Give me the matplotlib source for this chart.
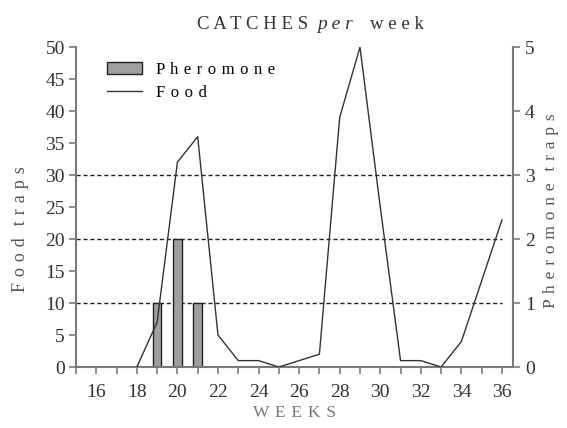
import matplotlib
matplotlib.use("Agg")
import matplotlib.pyplot as plt
from matplotlib.patches import Patch
from matplotlib.lines import Line2D

weeks = list(range(18, 37))
food = [0, 7, 32, 36, 5, 1, 1, 0, 1, 2, 39, 50, 25, 1, 1, 0, 4, 13.5, 23]
pher_weeks = [19, 20, 21]
pheromone = [1, 2, 1]
xticks = list(range(16, 37, 2))

plt.rcParams['font.family'] = ['Liberation Serif', 'DejaVu Serif']

SEP = " \u200a"

def spaced(s, sep=SEP):
    return sep.join(s)

def spaced_words(s, sep=SEP):
    return (sep * 2).join(spaced(w, sep) for w in s.split(" "))

fig = plt.figure(figsize=(5.67, 4.28), dpi=100)
ax = fig.add_axes([0.134, 0.1425, 0.771, 0.7475])
ax2 = ax.twinx()

gray = "#7a7a7a"
txt = "#333333"

ax.plot(weeks, food, color="#333333", lw=1.0, zorder=3)
ax.set_ylim(0, 50)
ax.set_xlim(15, 36.55)
ax.set_yticks(range(0, 51, 5))
ax.set_xticks(xticks)
ax.set_xticks(range(15, 37), minor=True)

ax2.bar(pher_weeks, pheromone, width=0.42, color="#a0a0a0", edgecolor="#222222", lw=1.0, zorder=2)
ax2.set_ylim(0, 5)
ax2.set_yticks(range(0, 6))
for lvl in [1, 2]:
    ax2.plot([15, 36], [lvl, lvl], ls=(0, (3, 2)), color="#222222", lw=1.0, zorder=1)
ax2.plot([15, 36.55], [3, 3], ls=(0, (3, 2)), color="#222222", lw=1.0, zorder=1)
ax.set_zorder(ax2.get_zorder() + 1)
ax.patch.set_visible(False)

for a in (ax, ax2):
    a.spines['top'].set_visible(False)
    for s in ['left', 'right', 'bottom']:
        a.spines[s].set_color(gray)
        a.spines[s].set_linewidth(1.5)
    a.tick_params(which='both', direction='out', color=gray, width=1.2, length=5,
                  labelsize=14, labelcolor=txt)
ax.spines['right'].set_visible(False)
ax2.spines['left'].set_visible(False)
ax2.spines['bottom'].set_visible(False)
ax.tick_params(axis='x', which='major', pad=7)
ax.tick_params(axis='y', which='major', pad=3)

ax.set_ylabel(spaced_words("Food traps"), fontsize=13, color="#555555")
ax.yaxis.set_label_coords(-0.107, 0.43)
ax2.set_ylabel(spaced_words("Pheromone traps"), fontsize=12.5, color="#555555")
ax2.yaxis.set_label_coords(1.068, 0.49)
ax.set_xlabel(spaced("WEEKS"), fontsize=12.5, color="#777777")
ax.xaxis.set_label_coords(0.5, -0.12)

ty = 1 - 29 / 428
fig.text(308 / 567, ty, " ".join("CATCHES"), ha='right', va='baseline', fontsize=13.5, color=txt)
fig.text(317 / 567, ty, " ".join("per"), ha='left', va='baseline', fontsize=14, color=txt, style='italic')
fig.text(370 / 567, ty, " ".join("week"), ha='left', va='baseline', fontsize=13.5, color=txt)

handles = [Patch(facecolor="#a0a0a0", edgecolor="#222222", lw=1.0),
           Line2D([0], [0], color="#333333", lw=1.0)]
ax.legend(handles, [spaced("Pheromone"), spaced("Food")], loc='upper left',
          bbox_to_anchor=(0.037, 1.0), frameon=False, fontsize=12,
          handlelength=2.1, handleheight=0.7, handletextpad=0.85, labelspacing=0.4)

fig.savefig("out.png", dpi=100)
